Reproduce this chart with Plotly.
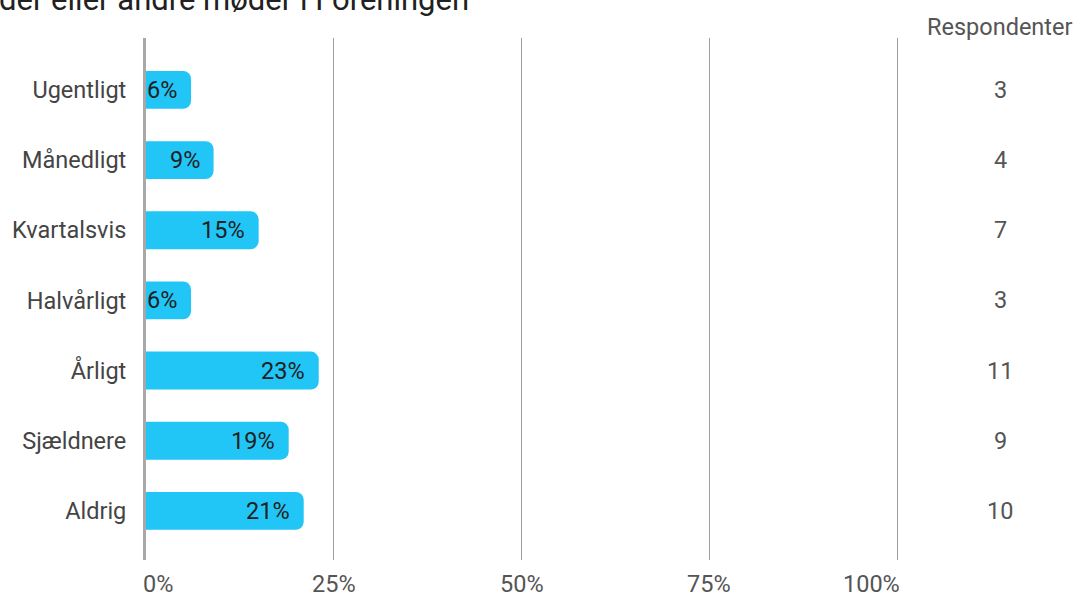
import plotly.graph_objects as go

categories = ["Ugentligt", "Månedligt", "Kvartalsvis", "Halvårligt", "Årligt", "Sjældnere", "Aldrig"]
percent = [6, 9, 15, 6, 23, 19, 21]
respondents = [3, 4, 7, 3, 11, 9, 10]
x_ticks = [0, 25, 50, 75, 100]
x_tick_labels = ["0%", "25%", "50%", "75%", "100%"]
title_text = "der eller andre møder i Foreningen"
resp_header = "Respondenter"

L, T, W, H = 146, 38, 1077, 594
PX100 = 751          # pixels for 0..100 %
PLOT_H = 522
FONT = "Roboto"
px_to_x = 100 / PX100   # data units per pixel

fig = go.Figure()
fig.add_trace(go.Bar(
    y=categories, x=percent, orientation="h",
    marker=dict(color="#22C6F6", cornerradius=8, line=dict(width=0)),
    width=0.54, hoverinfo="skip",
))

# value labels inside bar ends
for c, p in zip(categories, percent):
    fig.add_annotation(x=p, xref="x", y=c, yref="y", text=f"{p}%", xanchor="right",
                       xshift=-12, showarrow=False,
                       font=dict(family=FONT, size=23.5, color="#212121"))

# respondent counts column
col_x = (1000 - L) * px_to_x
for c, r in zip(categories, respondents):
    fig.add_annotation(x=col_x, xref="x", y=c, yref="y", text=str(r),
                       showarrow=False, font=dict(family=FONT, size=23.5, color="#555555"))
fig.add_annotation(x=(999 - L) * px_to_x, xref="x", y=1.0 + (T - 27) / PLOT_H, yref="paper",
                   yanchor="middle", text=resp_header, showarrow=False,
                   font=dict(family=FONT, size=23.5, color="#555555"))

# x tick labels (edge labels kept inside the grid, as in the reference)
for i, (v, t) in enumerate(zip(x_ticks, x_tick_labels)):
    if i == 0:
        anchor, shift = "left", -5
    elif i == len(x_ticks) - 1:
        anchor, shift = "right", 5
    else:
        anchor, shift = "center", 0
    fig.add_annotation(x=v, xref="x", xanchor=anchor, xshift=shift,
                       y=-(584 - T - PLOT_H) / PLOT_H, yref="paper", yanchor="middle",
                       text=t, showarrow=False,
                       font=dict(family=FONT, size=23.5, color="#555555"))

fig.add_annotation(x=(-3 - L) / (W - L), xref="paper", xanchor="left",
                   y=1.0 + (T + 1) / PLOT_H, yref="paper", yanchor="middle",
                   text=title_text, showarrow=False,
                   font=dict(family=FONT, size=31, color="#212121"))

fig.update_layout(
    width=W, height=H,
    margin=dict(l=L, r=0, t=T, b=H - T - PLOT_H, autoexpand=False),
    paper_bgcolor="white", plot_bgcolor="white",
    showlegend=False,
    font=dict(family=FONT, size=23.5, color="#444444"),
    xaxis=dict(range=[0, (W - L) * px_to_x], tickvals=x_ticks, showticklabels=False,
               showgrid=True, gridcolor="#9e9e9e", gridwidth=1,
               zeroline=False, showline=False, ticks="", automargin=False),
    yaxis=dict(range=[6.7, -0.74], showgrid=False, zeroline=False,
               showline=True, linecolor="#a8a8a8", linewidth=3, ticks="",
               ticklabelstandoff=12, automargin=False,
               tickfont=dict(family=FONT, size=23.5, color="#444444")),
)

fig.write_html("out.html", config={"displayModeBar": False},
               post_script="document.body.style.margin='0';")
